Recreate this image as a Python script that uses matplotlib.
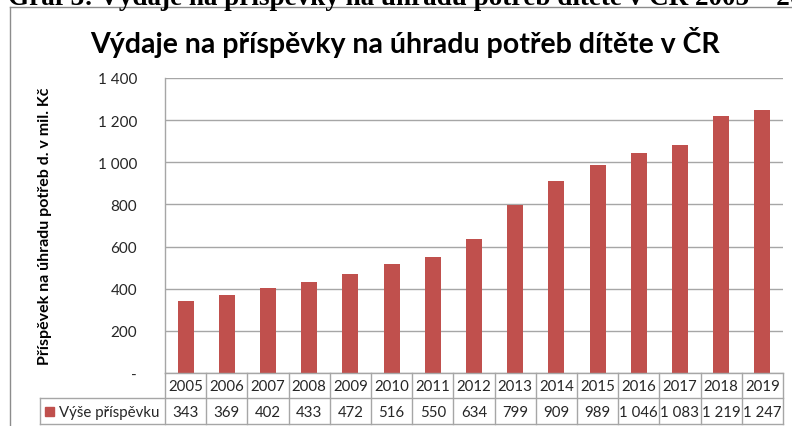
import matplotlib
matplotlib.use("Agg")
import matplotlib.pyplot as plt
from matplotlib.lines import Line2D
from matplotlib.patches import Rectangle

years = ["2005", "2006", "2007", "2008", "2009", "2010", "2011", "2012",
         "2013", "2014", "2015", "2016", "2017", "2018", "2019"]
values = [343, 369, 402, 433, 472, 516, 550, 634, 799, 909, 989, 1046, 1083, 1219, 1247]
yticks = [0, 200, 400, 600, 800, 1000, 1200, 1400]
series_name = "Výše příspěvku"
title = "Výdaje na příspěvky na úhradu potřeb dítěte v ČR"
ylabel = "Příspěvek na úhradu potřeb d. v mil. Kč"
header = "Graf 3: Výdaje na příspěvky na úhradu potřeb dítěte v ČR 2005 – 2019"

def fmt(v):
    if v == 0:
        return "-"
    return f"{v:,}".replace(",", "\u00a0")

W, H = 792, 427
fig = plt.figure(figsize=(W / 100, H / 100), dpi=100)
fig.patch.set_facecolor("white")

font = ["Lato", "DejaVu Sans"]
bar_color = "#C0504D"
grid_color = "#A6A6A6"
tbl_color = "#A6A6A6"

def fx(px):
    return px / W
def fy(py):
    return 1 - py / H

tr = fig.transFigure

# outer chart frame
fig.add_artist(Line2D([fx(10), fx(10)], [fy(8), fy(427)], color="#8C8C8C", lw=1.0, transform=tr))
fig.add_artist(Line2D([fx(10), fx(792)], [fy(8), fy(8)], color="#8C8C8C", lw=1.0, transform=tr))

# header of the page, clipped by the top edge as in the reference
fig.text(fx(8), fy(5), header, fontsize=19.5, fontweight="bold",
         family=["Liberation Serif", "DejaVu Serif"], ha="left", va="baseline", color="black")

# plot axes
left, right, top, bottom = 165, 783, 79, 374
ax = fig.add_axes([fx(left), fy(bottom), fx(right - left), (bottom - top) / H])
n = len(years)
x = list(range(n))
ax.bar(x, values, width=0.39, color=bar_color, zorder=3)
ax.set_xlim(-0.5, n - 0.5)
ax.set_ylim(0, 1400)
ax.set_yticks(yticks)
ax.set_yticklabels([fmt(t) for t in yticks], family=font, fontsize=11, color="#262626")
ax.tick_params(axis="y", length=0, pad=20)
ax.set_xticks([])
ax.yaxis.grid(True, color=grid_color, lw=1.0, zorder=0)
for s in ["top", "right", "bottom"]:
    ax.spines[s].set_visible(False)
ax.spines["left"].set_color(grid_color)
ax.spines["left"].set_linewidth(1.0)
ax.set_facecolor("none")

# y label
fig.text(fx(45), fy(226), ylabel, rotation=90, ha="center", va="center",
         family=font, fontsize=11.5, fontweight="bold", color="black")

# title
fig.text(fx(405), fy(43), title, ha="center", va="center", family=font,
         fontsize=20.5, fontweight="bold", color="black")

# data table
row1_top, row1_bot, row2_bot = 374, 399, 425
colw = (right - left) / n
def hline(x0, x1, y):
    fig.add_artist(Line2D([fx(x0), fx(x1)], [fy(y), fy(y)], color=tbl_color, lw=1.0, transform=tr))
def vline(xp, y0, y1):
    fig.add_artist(Line2D([fx(xp), fx(xp)], [fy(y0), fy(y1)], color=tbl_color, lw=1.0, transform=tr))

legend_left = 40
hline(left, right, row1_top)
hline(legend_left, right, row1_bot)
hline(legend_left, right, row2_bot)
vline(legend_left, row1_bot, row2_bot)
for i in range(n + 1):
    vline(left + i * colw, row1_top, row2_bot)

for i in range(n):
    cx = left + (i + 0.5) * colw
    fig.text(fx(cx), fy((row1_top + row1_bot) / 2 + 1), years[i], ha="center", va="center",
             family=font, fontsize=10.8, color="#262626")
    fig.text(fx(cx), fy((row1_bot + row2_bot) / 2 + 1), fmt(values[i]), ha="center", va="center",
             family=font, fontsize=10.8, color="#262626")

# legend key in table
fig.add_artist(Rectangle((fx(45), fy(417)), 9 / W, 9 / H, color=bar_color, transform=tr))
fig.text(fx(59), fy((row1_bot + row2_bot) / 2 + 1), series_name, ha="left", va="center",
         family=font, fontsize=10.8, color="#262626")

fig.savefig("out.png", dpi=100, facecolor="white")
